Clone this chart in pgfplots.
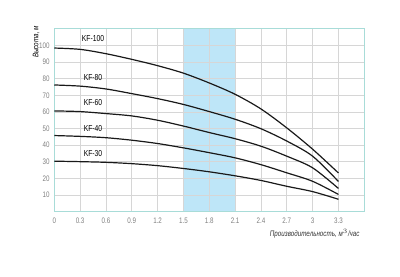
\documentclass[border=0pt]{standalone}
\usepackage{pgfplots}
\pgfplotsset{compat=1.18}
\usepackage{fontspec}
\setmainfont{Liberation Sans}
\newfontfamily\cond[FakeStretch=0.78]{Liberation Sans}
\definecolor{frame}{HTML}{A8DCD8}
\definecolor{band}{HTML}{BEE6F8}
\definecolor{gridc}{HTML}{D6D6D6}
\definecolor{tickc}{HTML}{808080}
\begin{document}
\begin{tikzpicture}[x=1pt,y=1pt]
\begin{axis}[
  set layers,
  at={(40.7pt,48.2pt)}, anchor=south west,
  scale only axis, width=232.5pt, height=137.25pt,
  xmin=0, xmax=3.6, ymin=0, ymax=110,
  xtick={0,0.3,0.6,0.9,1.2,1.5,1.8,2.1,2.4,2.7,3.0,3.3,3.6},
  xticklabels={0,0.3,0.6,0.9,1.2,1.5,1.8,2.1,2.4,2.7,3,3.3,},
  ytick={0,10,20,30,40,50,60,70,80,90,100,110},
  yticklabels={,10,20,30,40,50,60,70,80,90,100,},
  grid=major, major grid style={gridc, line width=0.5pt},
  axis line style={frame, line width=0.8pt},
  tick style={draw=none},
  ticklabel style={font=\cond\fontsize{6}{7}\selectfont, text=tickc},
  /pgf/number format/assume math mode=true,
  xticklabel style={yshift=-1pt},
  clip=false,
]
\addplot[draw=none, fill=band, on layer=axis background] coordinates {(1.5,0) (2.1,0) (2.1,110) (1.5,110)} -- cycle;
\addplot[black!90, line width=0.9pt, smooth] coordinates {
(0,98.4) (0.3,97.6) (0.6,95.0) (0.9,91.6) (1.2,87.8) (1.5,83.3) (1.8,77.4) (2.1,70.6) (2.4,61.8) (2.7,50.4) (3.0,37.6) (3.3,23.3)};
\addplot[black!90, line width=0.9pt, smooth] coordinates {
(0,76.2) (0.3,75.5) (0.6,73.8) (0.9,71.0) (1.2,68.0) (1.5,64.5) (1.8,60.2) (2.1,55.6) (2.4,49.9) (2.7,42.5) (3.0,33.4) (3.3,18.2)};
\addplot[black!90, line width=0.9pt, smooth] coordinates {
(0,60.6) (0.3,60.2) (0.6,59.0) (0.9,57.6) (1.2,55.0) (1.5,51.5) (1.8,47.6) (2.1,43.9) (2.4,39.4) (2.7,33.4) (3.0,26.4) (3.3,14.0)};
\addplot[black!90, line width=0.9pt, smooth] coordinates {
(0,45.8) (0.3,45.3) (0.6,44.5) (0.9,43.0) (1.2,41.0) (1.5,38.4) (1.8,35.5) (2.1,32.4) (2.4,28.3) (2.7,23.4) (3.0,18.3) (3.3,10.4)};
\addplot[black!90, line width=0.9pt, smooth] coordinates {
(0,30.4) (0.3,30.1) (0.6,29.7) (0.9,28.9) (1.2,27.7) (1.5,26.0) (1.8,24.0) (2.1,21.6) (2.4,18.8) (2.7,15.3) (3.0,12.1) (3.3,7.5)};
\node[font=\cond\fontsize{6.5}{7}\selectfont] at (axis cs:0.45,104) {KF-100};
\node[font=\cond\fontsize{6.5}{7}\selectfont] at (axis cs:0.45,80.4) {KF-80};
\node[font=\cond\fontsize{6.5}{7}\selectfont] at (axis cs:0.45,65.7) {KF-60};
\node[font=\cond\fontsize{6.5}{7}\selectfont] at (axis cs:0.45,50) {KF-40};
\node[font=\cond\fontsize{6.5}{7}\selectfont] at (axis cs:0.45,35) {KF-30};
\node[font=\cond\itshape\fontsize{6}{7}\selectfont, rotate=90, anchor=center] at (axis cs:-0.21,102) {Высота, м};
\node[font=\cond\itshape\fontsize{6}{7}\selectfont, anchor=east, text=black!80] at (axis cs:3.6,-13) {Производительность, м$^3$/час};
\end{axis}
\path (0,0) rectangle (300pt,207pt);
\end{tikzpicture}
\end{document}
